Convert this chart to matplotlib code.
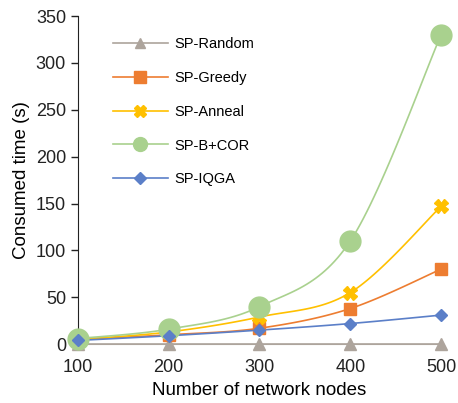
import numpy as np
import matplotlib
matplotlib.use("Agg")
import matplotlib.pyplot as plt
from matplotlib.lines import Line2D

plt.rcParams['font.family'] = ['Liberation Sans', 'DejaVu Sans']

nodes = [100, 200, 300, 400, 500]
sp_random = [0, 0, 0, 0, 0]
sp_greedy = [5, 10, 17, 38, 80]
sp_anneal = [5, 13, 29, 55, 147]
sp_bcor = [6, 16, 40, 110, 330]
sp_iqga = [4, 9, 15, 22, 31]
labels = ['SP-Random', 'SP-Greedy', 'SP-Anneal', 'SP-B+COR', 'SP-IQGA']
yticks = [0, 50, 100, 150, 200, 250, 300, 350]


def smooth(x, y, n=30):
    # Catmull-Rom style smoothing (like Excel smoothed lines)
    x = np.asarray(x, float); y = np.asarray(y, float)
    P = np.column_stack([x, y])
    P = np.vstack([P[0], P, P[-1]])
    out = []
    for i in range(1, len(P) - 2):
        p0, p1, p2, p3 = P[i - 1], P[i], P[i + 1], P[i + 2]
        t = np.linspace(0, 1, n)[:, None]
        c1 = p1 + (p2 - p0) / 6
        c2 = p2 - (p3 - p1) / 6
        seg = ((1 - t) ** 3) * p1 + 3 * ((1 - t) ** 2) * t * c1 + 3 * (1 - t) * t ** 2 * c2 + t ** 3 * p2
        out.append(seg if i == 1 else seg[1:])
    S = np.vstack(out)
    return S[:, 0], S[:, 1]


fig = plt.figure(figsize=(4.58, 4.03), dpi=100)
ax = fig.add_axes([0.170, 0.146, 0.793, 0.814])

series = [
    (sp_random, '#ADA49C', '^', 8, 7),
    (sp_greedy, '#ED7D31', 's', 9, 9),
    (sp_anneal, '#FFC000', 'X', 10, 9),
    (sp_bcor, '#A9D18E', 'o', 15, 10),
    (sp_iqga, '#5B7FC8', 'D', 6.5, 6.5),
]
handles = []
for (vals, col, mk, ms, lms), lab in zip(series, labels):
    sx, sy = smooth(nodes, vals)
    ax.plot(sx, sy, color=col, lw=1.2, clip_on=False, zorder=2)
    ax.plot(nodes, vals, ls='none', marker=mk, ms=ms, color=col, mec=col,
            clip_on=False, zorder=3)
    handles.append(Line2D([], [], color=col, lw=1.2, marker=mk, ms=lms, mec=col))

ax.set_xlim(100, 500)
ax.set_ylim(0, 350)
ax.set_xticks(nodes)
ax.set_yticks(yticks)
ax.tick_params(axis='x', length=0, labelsize=13, pad=11, colors='#222222')
ax.tick_params(axis='y', length=5, width=1, direction='out', labelsize=13, colors='#222222')
for s in ['top', 'right']:
    ax.spines[s].set_visible(False)
ax.spines['left'].set_color('#222222')
ax.spines['bottom'].set_color('#ADA49C')
ax.set_xlabel('Number of network nodes', fontsize=13.5, labelpad=4)
ax.set_ylabel('Consumed time (s)', fontsize=13.5, labelpad=4)

ax.legend(handles, labels, loc='upper left', bbox_to_anchor=(0.06, 0.975),
          frameon=False, fontsize=10.5, handlelength=3.8, labelspacing=1.35,
          handletextpad=0.4)

fig.savefig('out.png', dpi=100)
